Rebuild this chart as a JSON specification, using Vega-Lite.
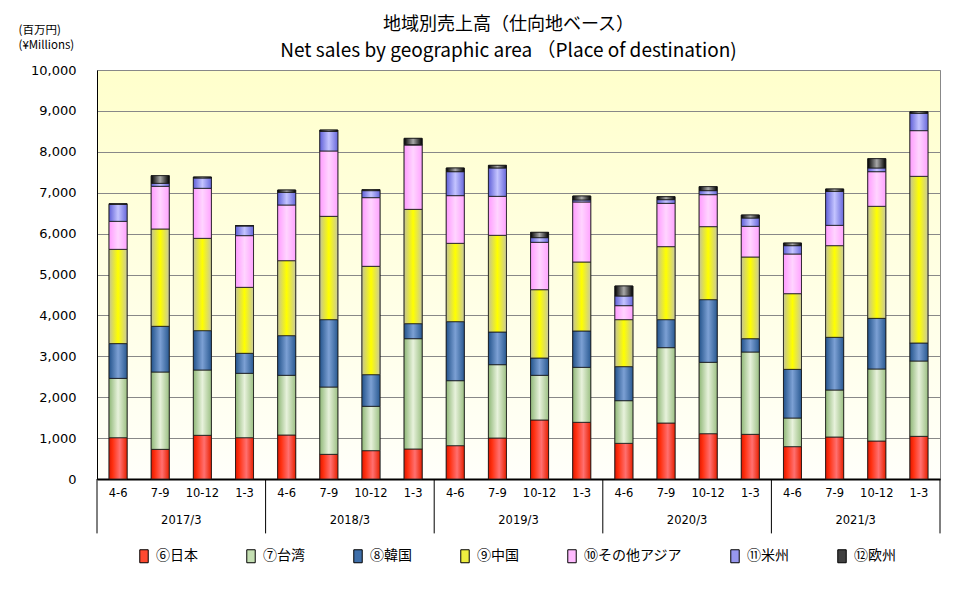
{
  "$schema": "https://vega.github.io/schema/vega-lite/v6.json",
  "autosize": {"type": "none"},
  "width": 843,
  "height": 409,
  "padding": {"left": 97, "top": 70, "right": 23, "bottom": 110},
  "background": "white",
  "title": {
    "text": "地域別売上高（仕向地ベース）",
    "subtitle": "Net sales by geographic area （Place of destination)",
    "frame": "group", "anchor": "middle",
    "font": "Noto Sans CJK JP", "fontSize": 18, "fontWeight": "normal", "color": "#000",
    "subtitleFont": "Noto Sans CJK JP", "subtitleFontSize": 19, "subtitleColor": "#000", "subtitlePadding": 8,
    "offset": 14, "dx": -10, "dy": 51
  },
  "datasets": {
    "sales": [
      {"fy":"2017/3","q":"2017/3|4-6","r":"⑥日本","v":1010},{"fy":"2017/3","q":"2017/3|4-6","r":"⑦台湾","v":1450},{"fy":"2017/3","q":"2017/3|4-6","r":"⑧韓国","v":850},{"fy":"2017/3","q":"2017/3|4-6","r":"⑨中国","v":2305},{"fy":"2017/3","q":"2017/3|4-6","r":"⑩その他アジア","v":685},{"fy":"2017/3","q":"2017/3|4-6","r":"⑪米州","v":415},{"fy":"2017/3","q":"2017/3|4-6","r":"⑫欧州","v":15},
      {"fy":"2017/3","q":"2017/3|7-9","r":"⑥日本","v":725},{"fy":"2017/3","q":"2017/3|7-9","r":"⑦台湾","v":1891},{"fy":"2017/3","q":"2017/3|7-9","r":"⑧韓国","v":1117},{"fy":"2017/3","q":"2017/3|7-9","r":"⑨中国","v":2380},{"fy":"2017/3","q":"2017/3|7-9","r":"⑩その他アジア","v":1043},{"fy":"2017/3","q":"2017/3|7-9","r":"⑪米州","v":73},{"fy":"2017/3","q":"2017/3|7-9","r":"⑫欧州","v":188},
      {"fy":"2017/3","q":"2017/3|10-12","r":"⑥日本","v":1068},{"fy":"2017/3","q":"2017/3|10-12","r":"⑦台湾","v":1597},{"fy":"2017/3","q":"2017/3|10-12","r":"⑧韓国","v":962},{"fy":"2017/3","q":"2017/3|10-12","r":"⑨中国","v":2257},{"fy":"2017/3","q":"2017/3|10-12","r":"⑩その他アジア","v":1223},{"fy":"2017/3","q":"2017/3|10-12","r":"⑪米州","v":252},{"fy":"2017/3","q":"2017/3|10-12","r":"⑫欧州","v":25},
      {"fy":"2017/3","q":"2017/3|1-3","r":"⑥日本","v":1010},{"fy":"2017/3","q":"2017/3|1-3","r":"⑦台湾","v":1574},{"fy":"2017/3","q":"2017/3|1-3","r":"⑧韓国","v":489},{"fy":"2017/3","q":"2017/3|1-3","r":"⑨中国","v":1613},{"fy":"2017/3","q":"2017/3|1-3","r":"⑩その他アジア","v":1264},{"fy":"2017/3","q":"2017/3|1-3","r":"⑪米州","v":236},{"fy":"2017/3","q":"2017/3|1-3","r":"⑫欧州","v":10},
      {"fy":"2018/3","q":"2018/3|4-6","r":"⑥日本","v":1076},{"fy":"2018/3","q":"2018/3|4-6","r":"⑦台湾","v":1459},{"fy":"2018/3","q":"2018/3|4-6","r":"⑧韓国","v":970},{"fy":"2018/3","q":"2018/3|4-6","r":"⑨中国","v":1833},{"fy":"2018/3","q":"2018/3|4-6","r":"⑩その他アジア","v":1361},{"fy":"2018/3","q":"2018/3|4-6","r":"⑪米州","v":310},{"fy":"2018/3","q":"2018/3|4-6","r":"⑫欧州","v":57},
      {"fy":"2018/3","q":"2018/3|7-9","r":"⑥日本","v":603},{"fy":"2018/3","q":"2018/3|7-9","r":"⑦台湾","v":1646},{"fy":"2018/3","q":"2018/3|7-9","r":"⑧韓国","v":1647},{"fy":"2018/3","q":"2018/3|7-9","r":"⑨中国","v":2526},{"fy":"2018/3","q":"2018/3|7-9","r":"⑩その他アジア","v":1598},{"fy":"2018/3","q":"2018/3|7-9","r":"⑪米州","v":480},{"fy":"2018/3","q":"2018/3|7-9","r":"⑫欧州","v":33},
      {"fy":"2018/3","q":"2018/3|10-12","r":"⑥日本","v":693},{"fy":"2018/3","q":"2018/3|10-12","r":"⑦台湾","v":1084},{"fy":"2018/3","q":"2018/3|10-12","r":"⑧韓国","v":774},{"fy":"2018/3","q":"2018/3|10-12","r":"⑨中国","v":2649},{"fy":"2018/3","q":"2018/3|10-12","r":"⑩その他アジア","v":1679},{"fy":"2018/3","q":"2018/3|10-12","r":"⑪米州","v":171},{"fy":"2018/3","q":"2018/3|10-12","r":"⑫欧州","v":24},
      {"fy":"2018/3","q":"2018/3|1-3","r":"⑥日本","v":734},{"fy":"2018/3","q":"2018/3|1-3","r":"⑦台湾","v":2697},{"fy":"2018/3","q":"2018/3|1-3","r":"⑧韓国","v":367},{"fy":"2018/3","q":"2018/3|1-3","r":"⑨中国","v":2795},{"fy":"2018/3","q":"2018/3|1-3","r":"⑩その他アジア","v":1573},{"fy":"2018/3","q":"2018/3|1-3","r":"⑪米州","v":10},{"fy":"2018/3","q":"2018/3|1-3","r":"⑫欧州","v":153},
      {"fy":"2019/3","q":"2019/3|4-6","r":"⑥日本","v":815},{"fy":"2019/3","q":"2019/3|4-6","r":"⑦台湾","v":1589},{"fy":"2019/3","q":"2019/3|4-6","r":"⑧韓国","v":1443},{"fy":"2019/3","q":"2019/3|4-6","r":"⑨中国","v":1915},{"fy":"2019/3","q":"2019/3|4-6","r":"⑩その他アジア","v":1166},{"fy":"2019/3","q":"2019/3|4-6","r":"⑪米州","v":586},{"fy":"2019/3","q":"2019/3|4-6","r":"⑫欧州","v":90},
      {"fy":"2019/3","q":"2019/3|7-9","r":"⑥日本","v":1002},{"fy":"2019/3","q":"2019/3|7-9","r":"⑦台湾","v":1793},{"fy":"2019/3","q":"2019/3|7-9","r":"⑧韓国","v":799},{"fy":"2019/3","q":"2019/3|7-9","r":"⑨中国","v":2364},{"fy":"2019/3","q":"2019/3|7-9","r":"⑩その他アジア","v":953},{"fy":"2019/3","q":"2019/3|7-9","r":"⑪米州","v":693},{"fy":"2019/3","q":"2019/3|7-9","r":"⑫欧州","v":65},
      {"fy":"2019/3","q":"2019/3|10-12","r":"⑥日本","v":1443},{"fy":"2019/3","q":"2019/3|10-12","r":"⑦台湾","v":1092},{"fy":"2019/3","q":"2019/3|10-12","r":"⑧韓国","v":423},{"fy":"2019/3","q":"2019/3|10-12","r":"⑨中国","v":1671},{"fy":"2019/3","q":"2019/3|10-12","r":"⑩その他アジア","v":1158},{"fy":"2019/3","q":"2019/3|10-12","r":"⑪米州","v":114},{"fy":"2019/3","q":"2019/3|10-12","r":"⑫欧州","v":130},
      {"fy":"2019/3","q":"2019/3|1-3","r":"⑥日本","v":1386},{"fy":"2019/3","q":"2019/3|1-3","r":"⑦台湾","v":1344},{"fy":"2019/3","q":"2019/3|1-3","r":"⑧韓国","v":889},{"fy":"2019/3","q":"2019/3|1-3","r":"⑨中国","v":1687},{"fy":"2019/3","q":"2019/3|1-3","r":"⑩その他アジア","v":1467},{"fy":"2019/3","q":"2019/3|1-3","r":"⑪米州","v":49},{"fy":"2019/3","q":"2019/3|1-3","r":"⑫欧州","v":97},
      {"fy":"2020/3","q":"2020/3|4-6","r":"⑥日本","v":872},{"fy":"2020/3","q":"2020/3|4-6","r":"⑦台湾","v":1043},{"fy":"2020/3","q":"2020/3|4-6","r":"⑧韓国","v":832},{"fy":"2020/3","q":"2020/3|4-6","r":"⑨中国","v":1149},{"fy":"2020/3","q":"2020/3|4-6","r":"⑩その他アジア","v":342},{"fy":"2020/3","q":"2020/3|4-6","r":"⑪米州","v":236},{"fy":"2020/3","q":"2020/3|4-6","r":"⑫欧州","v":245},
      {"fy":"2020/3","q":"2020/3|7-9","r":"⑥日本","v":1369},{"fy":"2020/3","q":"2020/3|7-9","r":"⑦台湾","v":1842},{"fy":"2020/3","q":"2020/3|7-9","r":"⑧韓国","v":685},{"fy":"2020/3","q":"2020/3|7-9","r":"⑨中国","v":1785},{"fy":"2020/3","q":"2020/3|7-9","r":"⑩その他アジア","v":1059},{"fy":"2020/3","q":"2020/3|7-9","r":"⑪米州","v":90},{"fy":"2020/3","q":"2020/3|7-9","r":"⑫欧州","v":73},
      {"fy":"2020/3","q":"2020/3|10-12","r":"⑥日本","v":1108},{"fy":"2020/3","q":"2020/3|10-12","r":"⑦台湾","v":1745},{"fy":"2020/3","q":"2020/3|10-12","r":"⑧韓国","v":1532},{"fy":"2020/3","q":"2020/3|10-12","r":"⑨中国","v":1785},{"fy":"2020/3","q":"2020/3|10-12","r":"⑩その他アジア","v":782},{"fy":"2020/3","q":"2020/3|10-12","r":"⑪米州","v":98},{"fy":"2020/3","q":"2020/3|10-12","r":"⑫欧州","v":98},
      {"fy":"2020/3","q":"2020/3|1-3","r":"⑥日本","v":1092},{"fy":"2020/3","q":"2020/3|1-3","r":"⑦台湾","v":2013},{"fy":"2020/3","q":"2020/3|1-3","r":"⑧韓国","v":326},{"fy":"2020/3","q":"2020/3|1-3","r":"⑨中国","v":1997},{"fy":"2020/3","q":"2020/3|1-3","r":"⑩その他アジア","v":750},{"fy":"2020/3","q":"2020/3|1-3","r":"⑪米州","v":203},{"fy":"2020/3","q":"2020/3|1-3","r":"⑫欧州","v":74},
      {"fy":"2021/3","q":"2021/3|4-6","r":"⑥日本","v":791},{"fy":"2021/3","q":"2021/3|4-6","r":"⑦台湾","v":700},{"fy":"2021/3","q":"2021/3|4-6","r":"⑧韓国","v":1190},{"fy":"2021/3","q":"2021/3|4-6","r":"⑨中国","v":1850},{"fy":"2021/3","q":"2021/3|4-6","r":"⑩その他アジア","v":970},{"fy":"2021/3","q":"2021/3|4-6","r":"⑪米州","v":204},{"fy":"2021/3","q":"2021/3|4-6","r":"⑫欧州","v":65},
      {"fy":"2021/3","q":"2021/3|7-9","r":"⑥日本","v":1027},{"fy":"2021/3","q":"2021/3|7-9","r":"⑦台湾","v":1149},{"fy":"2021/3","q":"2021/3|7-9","r":"⑧韓国","v":1288},{"fy":"2021/3","q":"2021/3|7-9","r":"⑨中国","v":2241},{"fy":"2021/3","q":"2021/3|7-9","r":"⑩その他アジア","v":497},{"fy":"2021/3","q":"2021/3|7-9","r":"⑪米州","v":831},{"fy":"2021/3","q":"2021/3|7-9","r":"⑫欧州","v":58},
      {"fy":"2021/3","q":"2021/3|10-12","r":"⑥日本","v":929},{"fy":"2021/3","q":"2021/3|10-12","r":"⑦台湾","v":1761},{"fy":"2021/3","q":"2021/3|10-12","r":"⑧韓国","v":1238},{"fy":"2021/3","q":"2021/3|10-12","r":"⑨中国","v":2739},{"fy":"2021/3","q":"2021/3|10-12","r":"⑩その他アジア","v":847},{"fy":"2021/3","q":"2021/3|10-12","r":"⑪米州","v":90},{"fy":"2021/3","q":"2021/3|10-12","r":"⑫欧州","v":228},
      {"fy":"2021/3","q":"2021/3|1-3","r":"⑥日本","v":1043},{"fy":"2021/3","q":"2021/3|1-3","r":"⑦台湾","v":1842},{"fy":"2021/3","q":"2021/3|1-3","r":"⑧韓国","v":440},{"fy":"2021/3","q":"2021/3|1-3","r":"⑨中国","v":4075},{"fy":"2021/3","q":"2021/3|1-3","r":"⑩その他アジア","v":1117},{"fy":"2021/3","q":"2021/3|1-3","r":"⑪米州","v":424},{"fy":"2021/3","q":"2021/3|1-3","r":"⑫欧州","v":40}
    ]
  },
  "data": {"name": "sales"},
  "transform": [
    {"stack": "v", "groupby": ["q"], "sort": [{"field": "r", "order": "ascending"}], "as": ["v0", "v1"]}
  ],
  "layer": [
    {
      "mark": {"type": "bar", "size": 18, "stroke": "#1a1a1a", "strokeWidth": 0.8},
      "encoding": {
        "x": {
          "field": "q", "type": "nominal", "sort": null, "title": null,
          "scale": {"paddingInner": 0, "paddingOuter": 0},
          "axis": {
            "labelExpr": "split(datum.label, '|')[1]", "labelAngle": 0, "ticks": false,
            "labelPadding": 8, "labelFont": "DejaVu Sans", "labelFontSize": 11.5, "labelColor": "#000",
            "domainColor": "#000", "domainWidth": 2
          }
        },
        "y": {
          "field": "v1", "type": "quantitative",
          "scale": {"domain": [0, 10000]},
          "axis": {
            "title": ["(百万円)", "(¥Millions)"], "titleAngle": 0, "titleX": -79, "titleY": -46,
            "titleAlign": "left", "titleBaseline": "top", "titleFont": "Noto Sans CJK JP",
            "titleFontSize": 11.5, "titleFontWeight": "normal", "titleLineHeight": 15, "titleColor": "#000",
            "values": [0, 1000, 2000, 3000, 4000, 5000, 6000, 7000, 8000, 9000, 10000],
            "format": ",d", "labelFont": "DejaVu Sans", "labelFontSize": 13, "labelColor": "#000",
            "labelPadding": 21, "ticks": false, "gridColor": "#888", "gridWidth": 1, "domainColor": "#000"
          }
        },
        "y2": {"field": "v0"},
        "color": {
          "field": "r", "type": "nominal",
          "scale": {
            "domain": ["⑥日本", "⑦台湾", "⑧韓国", "⑨中国", "⑩その他アジア", "⑪米州", "⑫欧州"],
            "range": ["#FF4A30", "#C4DFB2", "#3F6FAA", "#EEEE40", "#FFBBFF", "#9797EE", "#404040"]
          },
          "legend": {
            "title": null, "orient": "none", "legendX": 40, "legendY": 479, "direction": "horizontal",
            "labelFont": "Noto Sans CJK JP", "labelFontSize": 14, "labelColor": "#000",
            "symbolType": "M-0.65,-1H0.65V1H-0.65Z", "symbolSize": 169,
            "symbolStrokeColor": "#000", "symbolStrokeWidth": 1, "columnPadding": 46, "labelOffset": 5
          }
        }
      }
    },
    {
      "transform": [{"filter": "datum.r == '⑥日本'"}],
      "mark": {"type": "bar", "size": 18, "stroke": "#1a1a1a", "strokeWidth": 0.8,
        "fill": {"gradient": "linear", "x1": 0, "y1": 0, "x2": 1, "y2": 0, "stops": [{"offset": 0, "color": "#E01800"}, {"offset": 0.2, "color": "#FF3010"}, {"offset": 0.6, "color": "#FF7070"}, {"offset": 1, "color": "#E82000"}]}},
      "encoding": {"x": {"field": "q", "type": "nominal", "sort": null, "title": null}, "y": {"field": "v1", "type": "quantitative"}, "y2": {"field": "v0"}}
    },
    {
      "transform": [{"filter": "datum.r == '⑦台湾'"}],
      "mark": {"type": "bar", "size": 18, "stroke": "#1a1a1a", "strokeWidth": 0.8,
        "fill": {"gradient": "linear", "x1": 0, "y1": 0, "x2": 1, "y2": 0, "stops": [{"offset": 0, "color": "#90B878"}, {"offset": 0.5, "color": "#E8F2DC"}, {"offset": 1, "color": "#9CC084"}]}},
      "encoding": {"x": {"field": "q", "type": "nominal", "sort": null, "title": null}, "y": {"field": "v1", "type": "quantitative"}, "y2": {"field": "v0"}}
    },
    {
      "transform": [{"filter": "datum.r == '⑧韓国'"}],
      "mark": {"type": "bar", "size": 18, "stroke": "#1a1a1a", "strokeWidth": 0.8,
        "fill": {"gradient": "linear", "x1": 0, "y1": 0, "x2": 1, "y2": 0, "stops": [{"offset": 0, "color": "#24548C"}, {"offset": 0.5, "color": "#7CA0D4"}, {"offset": 1, "color": "#2A5A92"}]}},
      "encoding": {"x": {"field": "q", "type": "nominal", "sort": null, "title": null}, "y": {"field": "v1", "type": "quantitative"}, "y2": {"field": "v0"}}
    },
    {
      "transform": [{"filter": "datum.r == '⑨中国'"}],
      "mark": {"type": "bar", "size": 18, "stroke": "#1a1a1a", "strokeWidth": 0.8,
        "fill": {"gradient": "linear", "x1": 0, "y1": 0, "x2": 1, "y2": 0, "stops": [{"offset": 0, "color": "#C4C494"}, {"offset": 0.5, "color": "#FFFF00"}, {"offset": 1, "color": "#CACA9C"}]}},
      "encoding": {"x": {"field": "q", "type": "nominal", "sort": null, "title": null}, "y": {"field": "v1", "type": "quantitative"}, "y2": {"field": "v0"}}
    },
    {
      "transform": [{"filter": "datum.r == '⑩その他アジア'"}],
      "mark": {"type": "bar", "size": 18, "stroke": "#1a1a1a", "strokeWidth": 0.8,
        "fill": {"gradient": "linear", "x1": 0, "y1": 0, "x2": 1, "y2": 0, "stops": [{"offset": 0, "color": "#FF9CFF"}, {"offset": 0.5, "color": "#FFD4FF"}, {"offset": 1, "color": "#FFA4FF"}]}},
      "encoding": {"x": {"field": "q", "type": "nominal", "sort": null, "title": null}, "y": {"field": "v1", "type": "quantitative"}, "y2": {"field": "v0"}}
    },
    {
      "transform": [{"filter": "datum.r == '⑪米州'"}],
      "mark": {"type": "bar", "size": 18, "stroke": "#1a1a1a", "strokeWidth": 0.8,
        "fill": {"gradient": "linear", "x1": 0, "y1": 0, "x2": 1, "y2": 0, "stops": [{"offset": 0, "color": "#6060D8"}, {"offset": 0.5, "color": "#C4C4FF"}, {"offset": 1, "color": "#6868DC"}]}},
      "encoding": {"x": {"field": "q", "type": "nominal", "sort": null, "title": null}, "y": {"field": "v1", "type": "quantitative"}, "y2": {"field": "v0"}}
    },
    {
      "transform": [{"filter": "datum.r == '⑫欧州'"}],
      "mark": {"type": "bar", "size": 18, "stroke": "#1a1a1a", "strokeWidth": 0.8,
        "fill": {"gradient": "linear", "x1": 0, "y1": 0, "x2": 1, "y2": 0, "stops": [{"offset": 0, "color": "#000000"}, {"offset": 0.5, "color": "#A8A8A8"}, {"offset": 1, "color": "#000000"}]}},
      "encoding": {"x": {"field": "q", "type": "nominal", "sort": null, "title": null}, "y": {"field": "v1", "type": "quantitative"}, "y2": {"field": "v0"}}
    },
    {
      "transform": [{"filter": "datum.r == '⑥日本' && indexof(datum.q, '4-6') >= 0"}],
      "mark": {"type": "rule", "color": "#000", "strokeWidth": 1},
      "encoding": {
        "x": {"field": "q", "type": "nominal", "sort": null, "title": null, "bandPosition": 0},
        "y": {"datum": 0, "type": "quantitative"},
        "y2": {"datum": -1330}
      }
    },
    {
      "transform": [{"filter": "datum.r == '⑥日本' && datum.q == '2021/3|1-3'"}],
      "mark": {"type": "rule", "color": "#000", "strokeWidth": 1},
      "encoding": {
        "x": {"field": "q", "type": "nominal", "sort": null, "title": null, "bandPosition": 1},
        "y": {"datum": 0, "type": "quantitative"},
        "y2": {"datum": -1330}
      }
    },
    {
      "transform": [{"filter": "datum.r == '⑥日本' && indexof(datum.q, '10-12') >= 0"}],
      "mark": {"type": "text", "font": "DejaVu Sans", "fontSize": 11.5, "color": "#000", "baseline": "middle", "align": "center"},
      "encoding": {
        "x": {"field": "q", "type": "nominal", "sort": null, "title": null, "bandPosition": 0},
        "y": {"datum": -1030, "type": "quantitative"},
        "text": {"field": "fy"}
      }
    }
  ],
  "config": {
    "view": {
      "stroke": "#888", "strokeWidth": 1,
      "fill": {"gradient": "linear", "x1": 0, "y1": 0, "x2": 0, "y2": 1,
        "stops": [{"offset": 0, "color": "#FFFFCC"}, {"offset": 1, "color": "#FFFFFA"}]}
    }
  }
}
